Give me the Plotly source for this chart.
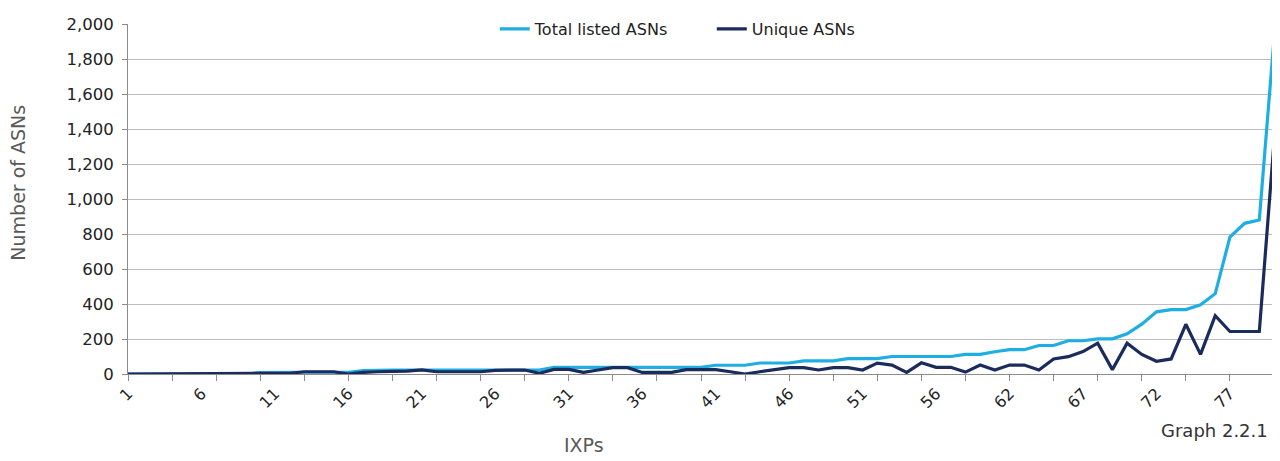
import plotly.graph_objects as go

# Category labels (IXPs) - label 61 is absent in the source axis
ixp_labels = [str(n) for n in range(1, 61)] + [str(n) for n in range(62, 81)]

total_listed = [0, 0, 0, 0, 0, 0, 0, 0, 0, 8,
                10, 10, 10, 10, 10, 10, 20, 23, 23, 23,
                23, 23, 23, 23, 23, 23, 23, 23, 23, 38,
                38, 38, 38, 38, 38, 38, 38, 38, 38, 38,
                50, 50, 50, 63, 63, 63, 75, 75, 75, 88,
                88, 88, 100, 100, 100, 100, 100, 112, 112, 127,
                139, 139, 163, 163, 190, 190, 201, 201, 230, 285,
                355, 368, 368, 395, 459, 782, 861, 880, 1915]

unique_asns = [0, 0, 0, 0, 0, 0, 0, 0, 0, 0,
               0, 4, 13, 13, 13, 0, 9, 13, 13, 17,
               23, 13, 13, 13, 13, 21, 23, 23, 4, 26,
               26, 9, 23, 36, 36, 9, 9, 9, 25, 25,
               25, 13, 0, 13, 26, 36, 36, 23, 36, 36,
               23, 62, 51, 9, 64, 38, 38, 11, 51, 23,
               51, 51, 23, 86, 99, 128, 176, 25, 176, 112,
               73, 86, 284, 112, 333, 243, 243, 243, 1325]

idx = list(range(len(ixp_labels)))

FONT = "DejaVu Sans, Verdana, sans-serif"

fig = go.Figure()
fig.add_trace(go.Scatter(x=idx, y=total_listed, mode="lines", name="Total listed ASNs",
                         line=dict(color="#1EAEE4", width=3.2)))
fig.add_trace(go.Scatter(x=idx, y=unique_asns, mode="lines", name="Unique ASNs",
                         line=dict(color="#1B2C5C", width=3.2)))

label_pos = list(range(0, len(ixp_labels), 5))
fig.update_layout(
    width=1272, height=453,
    margin=dict(l=120, r=4, t=11, b=87),
    paper_bgcolor="white", plot_bgcolor="white",
    font=dict(family=FONT, color="#222222", size=16),
    showlegend=True,
    legend=dict(orientation="h", x=0.3195, xanchor="left", y=0.986, yanchor="middle",
                bgcolor="rgba(0,0,0,0)", font=dict(size=16, color="#222222"),
                entrywidth=172, entrywidthmode="pixels", tracegroupgap=0),
    xaxis=dict(range=[0, len(ixp_labels) - 1 + 0.136], tickmode="array",
               tickvals=label_pos, ticktext=[ixp_labels[i] for i in label_pos],
               tickangle=-45, ticks="", showgrid=False, zeroline=False,
               showline=True, linecolor="#8C8C8C", linewidth=1, automargin=False,
               ticklabelstandoff=3,
               tickfont=dict(size=16, color="#222222"),
               minor=dict(tickvals=list(range(0, len(ixp_labels), 3)), ticks="outside",
                          ticklen=6, tickcolor="#8C8C8C", showgrid=False)),
    yaxis=dict(range=[0, 2000], dtick=200, tickformat=",", showgrid=True,
               gridcolor="#BDBDBD", gridwidth=1, zeroline=False,
               showline=True, linecolor="#8C8C8C", linewidth=1, automargin=False,
               ticks="outside", ticklen=5, tickcolor="#8C8C8C", ticklabelstandoff=5,
               tickfont=dict(size=16.5, color="#222222")),
)
fig.add_annotation(text="Number of ASNs", xref="paper", yref="paper", x=-0.096, y=0.546,
                   xanchor="center", yanchor="middle", textangle=-90, showarrow=False,
                   font=dict(size=19, color="#595959"))
fig.add_annotation(text="IXPs", xref="paper", yref="paper", x=0.397, y=-0.2405,
                   xanchor="center", yanchor="bottom", showarrow=False,
                   font=dict(size=19, color="#595959"))
fig.add_annotation(text="Graph 2.2.1", xref="paper", yref="paper", x=0.995, y=-0.16,
                   xanchor="right", yanchor="middle", showarrow=False,
                   font=dict(size=18, color="#333333"))

fig.write_html("out.html")
